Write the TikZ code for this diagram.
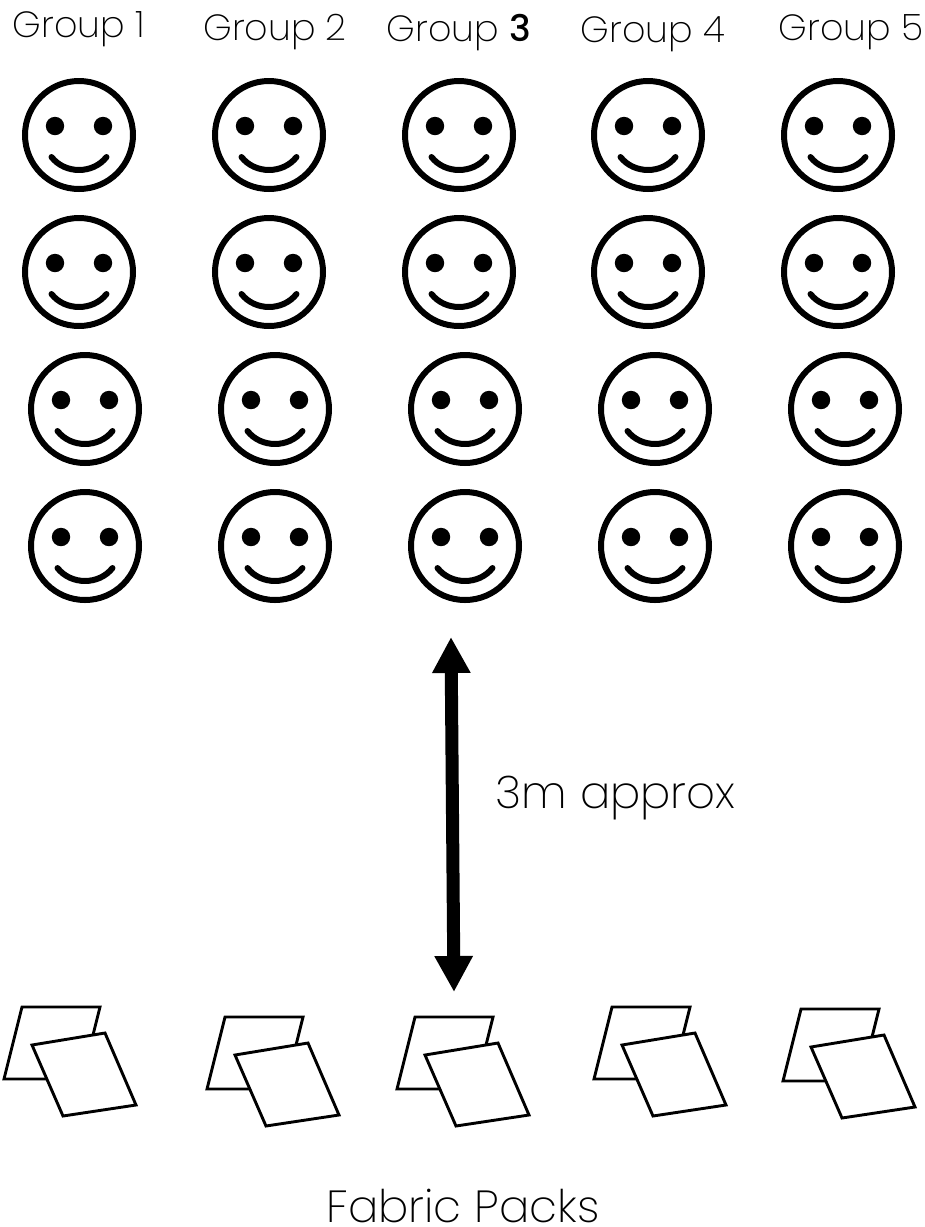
\documentclass[tikz,border=0pt]{standalone}
\usepackage{fontspec}
\setmainfont{Poppins ExtraLight}
\newfontfamily\boldish{Poppins Medium}
\usetikzlibrary{arrows.meta}
\tikzset{
  x=1pt,y=-1pt,
  grouplabel/.style={anchor=base,inner sep=0pt,font=\fontsize{36.5}{42}\selectfont},
  biglabel/.style={anchor=base,inner sep=0pt,font=\fontsize{45}{52}\selectfont},
  facestroke/.style={line width=6pt,black},
  sheet/.style={draw=black,fill=white,line width=2.9pt,line join=miter},
  distance arrow/.style={line width=13pt,black,
    {Triangle[width=36pt,length=36pt]}-{Triangle[width=36pt,length=36pt]}},
  pics/smiley/.style={code={
    \draw[facestroke] (0,0) circle[radius=54];
    \fill (-24,-9) circle[radius=9.2];
    \fill (24,-9) circle[radius=9.2];
    \draw[facestroke,line cap=round] (-27.5,22) .. controls (-14,39.3) and (14,39.3) .. (27.5,22);
  }},
  pics/fabricpack/.style={code={
    \draw[sheet] (22,1007) -- (100,1007) -- (82,1079) -- (4,1079) -- cycle;
    \draw[sheet] (32,1045) -- (105,1033) -- (136,1105) -- (63,1116) -- cycle;
  }}
}
\begin{document}
\begin{tikzpicture}
\useasboundingbox (0,0) rectangle (925,1227);
% group labels
\node[grouplabel] (g1) at (79,37) {Group 1};
\node[grouplabel] (g2) at (275,40) {Group 2};
\node[grouplabel] (g3) at (459,41) {Group {\boldish 3}};
\node[grouplabel] (g4) at (653,42) {Group 4};
\node[grouplabel] (g5) at (851,40) {Group 5};
% faces
\foreach \cx in {79,269,459,648,838}{
  \pic at (\cx,135) {smiley};
  \pic at (\cx,272) {smiley};
}
\foreach \cx in {85,275,465,655,845}{
  \pic at (\cx,409) {smiley};
  \pic at (\cx,546) {smiley};
}
% distance arrow
\coordinate (arrowtop) at (451,637);
\coordinate (arrowbottom) at (454,992);
\draw[distance arrow] (arrowtop) -- (arrowbottom);
\node[biglabel] (dist) at (615.5,808) {3m approx};
% fabric packs
\pic at (0,0) {fabricpack};
\pic at (203,10) {fabricpack};
\pic at (393,10) {fabricpack};
\pic at (590,0) {fabricpack};
\pic at (779,2) {fabricpack};
\node[biglabel] (packs) at (463,1222) {Fabric Packs};
\end{tikzpicture}
\end{document}
